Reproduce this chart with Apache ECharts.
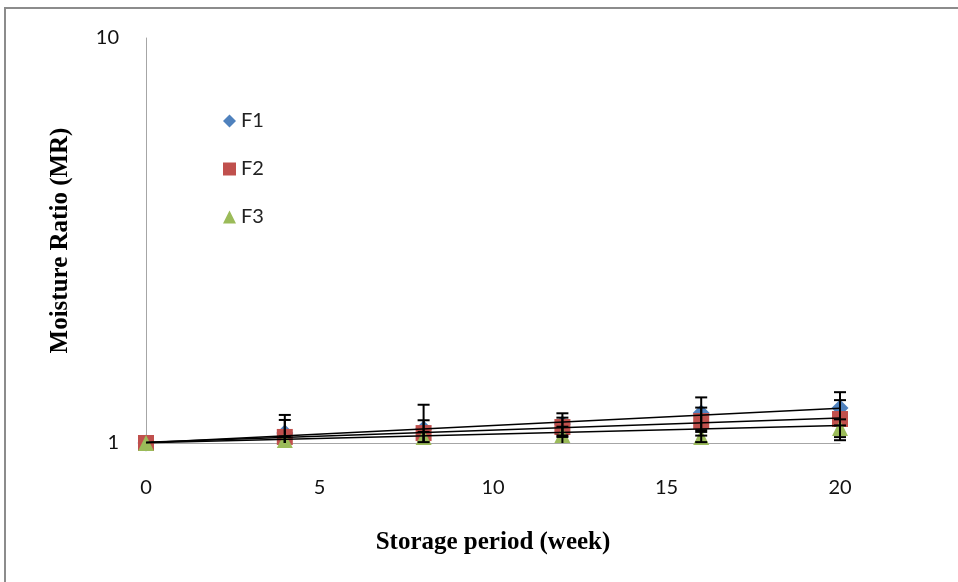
<!DOCTYPE html>
<html>
<head>
<meta charset="utf-8">
<script src="https://cdn.jsdelivr.net/npm/echarts@6/dist/echarts.min.js"></script>
<style>
  html, body { margin: 0; padding: 0; background: #fff; }
  #chart { width: 958px; height: 582px; }
</style>
</head>
<body>
<div id="chart"></div>
<script>
// storage weeks
var weeks = [0, 4, 8, 12, 16, 20];

// moisture ratio per formulation
var f1 = [1.00, 1.058, 1.083, 1.114, 1.186, 1.220];
var f2 = [1.00, 1.035, 1.058, 1.095, 1.133, 1.146];
var f3 = [1.00, 1.017, 1.035, 1.047, 1.035, 1.089];

// error bar sizes (+/-)
var f1Err = [0, 0.115, 0.16, 0.07, 0.11, 0.115];
var f2Err = [0, 0.105, 0.08, 0.06, 0.09, 0.13];
var f3Err = [0, 0.02, 0.03, 0.05, 0.03, 0.055];

// linear trend line ends, at week 0 and week 20
var trendX = [0, 20];
var f1Trend = [1.002, 1.218];
var f2Trend = [1.004, 1.152];
var f3Trend = [1.002, 1.105];

var names = ['F1', 'F2', 'F3'];
var colors = ['#4f81bd', '#c0504d', '#9bbb59'];
var symbols = ['diamond', 'rect', 'triangle'];

var chart = echarts.init(document.getElementById('chart'));

function pairs(xs, ys) {
    return xs.map(function (x, i) { return [x, ys[i]]; });
}
function triples(xs, ys, es) {
    return xs.map(function (x, i) { return [x, ys[i], es[i]]; });
}

function errItem(params, api) {
    var x = api.value(0), y = api.value(1), e = api.value(2);
    if (!e) return null;
    var lowVal = y - e;
    var hi = api.coord([x, y + e]);
    var lo = api.coord([x, Math.max(1, lowVal)]);
    var w = 6;
    var style = { stroke: '#000', lineWidth: 2 };
    var kids = [
        { type: 'line', shape: { x1: hi[0], y1: hi[1], x2: lo[0], y2: lo[1] }, style: style },
        { type: 'line', shape: { x1: hi[0] - w, y1: hi[1], x2: hi[0] + w, y2: hi[1] }, style: style }
    ];
    if (lowVal >= 1) {
        kids.push({ type: 'line', shape: { x1: lo[0] - w, y1: lo[1], x2: lo[0] + w, y2: lo[1] }, style: style });
    }
    return { type: 'group', children: kids };
}

var values = [f1, f2, f3];
var errs = [f1Err, f2Err, f3Err];
var trends = [f1Trend, f2Trend, f3Trend];

var series = [];
names.forEach(function (n, i) {
    series.push({
        name: n,
        type: 'scatter',
        symbol: symbols[i],
        symbolSize: symbols[i] === 'diamond' ? 17 : 16,
        itemStyle: { color: colors[i], opacity: 1 },
        data: pairs(weeks, values[i]),
        z: 2 + i
    });
});
names.forEach(function (n, i) {
    series.push({
        name: n + ' trend',
        type: 'line',
        silent: true,
        symbol: 'none',
        lineStyle: { color: '#000', width: 1.5 },
        data: pairs(trendX, trends[i]),
        z: 6
    });
});
names.forEach(function (n, i) {
    series.push({
        name: n + ' error',
        type: 'custom',
        silent: true,
        renderItem: errItem,
        data: triples(weeks, values[i], errs[i]),
        z: 7
    });
});

var option = {
    animation: false,
    backgroundColor: '#fff',
    graphic: [{
        type: 'rect',
        shape: { x: 5, y: 8, width: 1200, height: 1200 },
        style: { fill: 'none', stroke: '#8c8c8c', lineWidth: 2 },
        silent: true
    }],
    grid: { left: 146, top: 38, right: 118, bottom: 139 },
    legend: {
        orient: 'vertical',
        left: 218,
        top: 106,
        itemWidth: 13,
        itemHeight: 13,
        itemGap: 28,
        textStyle: { fontFamily: 'Lato', fontSize: 20, color: '#222' },
        data: names.map(function (n, i) { return { name: n, icon: symbols[i] }; })
    },
    xAxis: {
        type: 'value',
        min: 0,
        max: 20,
        interval: 5,
        name: 'Storage period (week)',
        nameLocation: 'middle',
        nameGap: 87,
        nameTextStyle: { fontFamily: 'Liberation Serif', fontWeight: 'bold', fontSize: 25, color: '#000' },
        axisLine: { lineStyle: { color: '#a6a6a6', width: 1 } },
        axisTick: { show: false },
        splitLine: { show: false },
        axisLabel: { fontFamily: 'Lato', fontSize: 20, color: '#111', margin: 35 }
    },
    yAxis: {
        type: 'log',
        logBase: 10,
        min: 1,
        max: 10,
        name: 'Moisture Ratio (MR)',
        nameLocation: 'middle',
        nameGap: 73,
        nameTextStyle: { fontFamily: 'Liberation Serif', fontWeight: 'bold', fontSize: 25, color: '#000' },
        axisLine: { show: true, lineStyle: { color: '#a6a6a6', width: 1 } },
        axisTick: { show: false },
        splitLine: { show: false },
        axisLabel: { fontFamily: 'Lato', fontSize: 20, color: '#111', margin: 27 }
    },
    series: series
};

chart.setOption(option);
</script>
</body>
</html>
